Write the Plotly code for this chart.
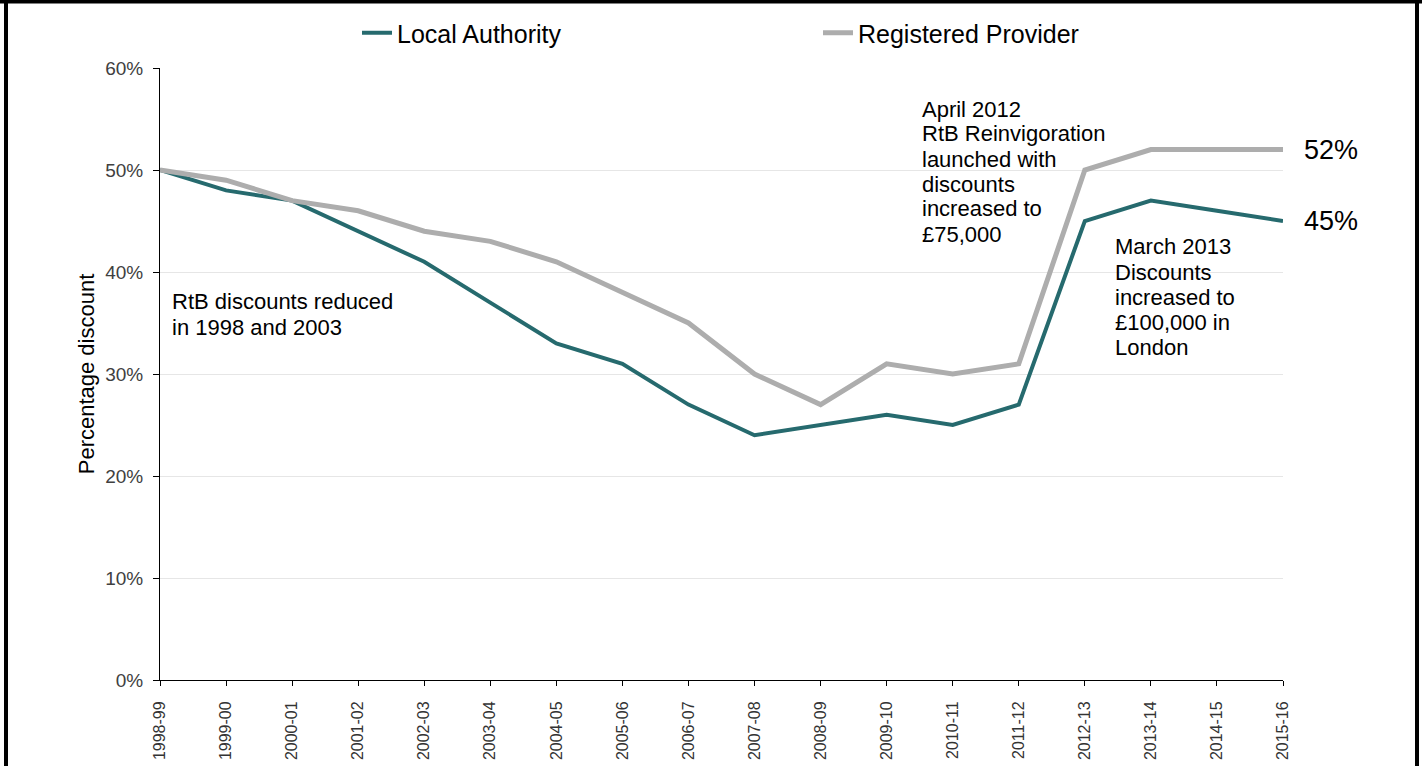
import plotly.graph_objects as go

# ---- data ----
years = ["1998-99", "1999-00", "2000-01", "2001-02", "2002-03", "2003-04",
         "2004-05", "2005-06", "2006-07", "2007-08", "2008-09", "2009-10",
         "2010-11", "2011-12", "2012-13", "2013-14", "2014-15", "2015-16"]
local_authority = [50, 48, 47, 44, 41, 37, 33, 31, 27, 24, 25, 26, 25, 27, 45, 47, 46, 45]
registered_provider = [50, 49, 47, 46, 44, 43, 41, 38, 35, 30, 27, 31, 30, 31, 50, 52, 52, 52]
y_tick_vals = [0, 10, 20, 30, 40, 50, 60]
y_tick_text = [f"{v}%" for v in y_tick_vals]

note_rtb = ["RtB discounts reduced", "in 1998 and 2003"]
note_april = ["April 2012", "RtB Reinvigoration", "launched with", "discounts",
              "increased to", "£75,000"]
note_march = ["March 2013", "Discounts", "increased to", "£100,000 in", "London"]

# ---- styling ----
W, H = 1422, 766
ML, MR, MT, MB = 160, 139, 68, 86
PW, PH = W - ML - MR, H - MT - MB
FONT = "Liberation Sans, Arial, sans-serif"
LA_COLOR = "#266a6e"
RP_COLOR = "#adadad"


def px(xp):
    return (xp - ML) / PW


def py(yp):
    return (H - MB - yp) / PH


fig = go.Figure()
fig.add_trace(go.Scatter(x=years, y=local_authority, mode="lines", name="Local Authority",
                         line=dict(color=LA_COLOR, width=4)))
fig.add_trace(go.Scatter(x=years, y=registered_provider, mode="lines", name="Registered Provider",
                         line=dict(color=RP_COLOR, width=5)))

shapes = [
    # white box behind the March 2013 note (hides gridlines)
    dict(type="rect", xref="paper", yref="paper", x0=px(1097), x1=px(1300),
         y0=py(382), y1=py(232), fillcolor="white", line=dict(width=0), layer="between"),
    # outer frame
    dict(type="line", xref="paper", yref="paper", x0=px(6), x1=px(6), y0=py(-5), y1=py(775),
         line=dict(color="black", width=4)),
    dict(type="line", xref="paper", yref="paper", x0=px(-5), x1=px(1430), y0=py(1.5), y1=py(1.5),
         line=dict(color="black", width=4)),
    dict(type="line", xref="paper", yref="paper", x0=px(1417), x1=px(1417), y0=py(-5), y1=py(775),
         line=dict(color="black", width=4)),
]

annotations = []


def add_note(lines, left, first_center, step):
    for i, t in enumerate(lines):
        annotations.append(dict(text=t, xref="paper", yref="paper", x=px(left),
                                y=py(first_center + i * step), xanchor="left",
                                yanchor="middle", align="left", showarrow=False,
                                font=dict(size=22, color="black")))


add_note(note_rtb, 170, 301, 26)
add_note(note_april, 920, 109, 25)
add_note(note_march, 1113, 247, 25.2)

for series in (registered_provider, local_authority):
    annotations.append(dict(text=f"{series[-1]}%", x=years[-1], y=series[-1],
                            xanchor="left", yanchor="middle", xshift=19, showarrow=False,
                            font=dict(size=27, color="black")))

fig.update_layout(
    width=W, height=H,
    margin=dict(l=ML, r=MR, t=MT, b=MB, autoexpand=False),
    paper_bgcolor="white", plot_bgcolor="white",
    font=dict(family=FONT, color="black"),
    showlegend=True,
    legend=dict(orientation="h", x=px(357), xanchor="left", y=py(33), yanchor="middle",
                font=dict(size=25, color="black"), itemwidth=30,
                entrywidth=416, entrywidthmode="pixels", bgcolor="rgba(0,0,0,0)"),
    xaxis=dict(type="category", range=[0, len(years) - 1], showgrid=False, zeroline=False,
               showline=True, linecolor="black", linewidth=1, ticks="outside", ticklen=5,
               tickcolor="black", tickangle=-90, tickfont=dict(size=16, color="#333333"),
               ticklabelstandoff=9, fixedrange=True),
    yaxis=dict(range=[0, 60], tickvals=y_tick_vals, ticktext=y_tick_text, showgrid=True,
               gridcolor="#e6e6e6", gridwidth=1, zeroline=False, showline=True,
               linecolor="black", linewidth=1, ticks="outside", ticklen=6, tickcolor="black",
               tickfont=dict(size=19, color="#404040"), ticklabelstandoff=6,
               title=dict(text="Percentage discount", font=dict(size=22, color="black"),
                          standoff=4),
               fixedrange=True),
    shapes=shapes,
    annotations=annotations,
)

fig.write_html("out.html", config={"displayModeBar": False},
               post_script="document.body.style.margin='0px';")
